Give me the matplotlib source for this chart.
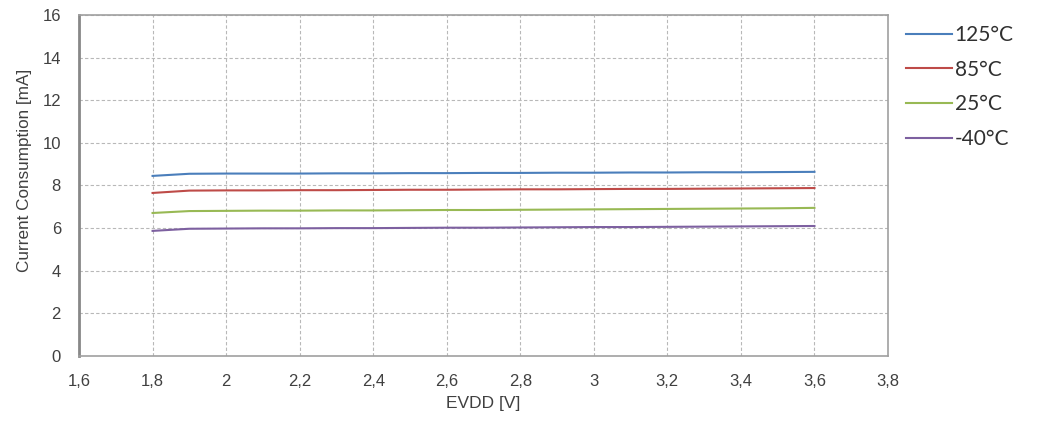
import matplotlib.pyplot as plt
import numpy as np

# supply voltage sweep [V]
evdd = [1.8, 1.9, 2.0, 2.1, 2.2, 2.3, 2.4, 2.5, 2.6, 2.7, 2.8, 2.9, 3.0,
        3.1, 3.2, 3.3, 3.4, 3.5, 3.6]

# current consumption [mA] per temperature
i_125 = [8.45, 8.55, 8.56, 8.56, 8.56, 8.57, 8.57, 8.58, 8.58, 8.59, 8.59,
         8.60, 8.60, 8.61, 8.61, 8.62, 8.62, 8.63, 8.64]
i_85 = [7.65, 7.76, 7.77, 7.77, 7.78, 7.78, 7.79, 7.80, 7.80, 7.81, 7.82,
        7.82, 7.83, 7.84, 7.84, 7.85, 7.86, 7.87, 7.88]
i_25 = [6.71, 6.80, 6.81, 6.82, 6.82, 6.83, 6.83, 6.84, 6.85, 6.85, 6.86,
        6.87, 6.88, 6.89, 6.90, 6.91, 6.92, 6.93, 6.95]
i_m40 = [5.87, 5.97, 5.98, 5.99, 5.99, 6.00, 6.00, 6.01, 6.02, 6.02, 6.03,
         6.04, 6.05, 6.05, 6.06, 6.07, 6.08, 6.09, 6.10]

labels = ['125°C', '85°C', '25°C', '-40°C']
colors = ['#4a7ebb', '#be4b48', '#98b954', '#7d60a0']

plt.rcParams['font.family'] = ['Liberation Sans', 'DejaVu Sans']

fig = plt.figure(figsize=(10.37, 4.21), dpi=100)
ax = fig.add_axes([0.0762, 0.1544, 0.7801, 0.81])

for ys, lab, c in zip([i_125, i_85, i_25, i_m40], labels, colors):
    ax.plot(evdd, ys, color=c, linewidth=1.5, label=lab)

ax.set_xlim(1.6, 3.8)
ax.set_ylim(0, 16)
xt = np.arange(1.6, 3.81, 0.2)
ax.set_xticks(xt)
ax.set_xticklabels([f'{v:g}'.replace('.', ',') for v in np.round(xt, 1)], fontsize=12)
ax.set_yticks(range(0, 17, 2))
ax.set_yticklabels([str(v) for v in range(0, 17, 2)], fontsize=12)
ax.tick_params(length=0, colors='#404040')
ax.tick_params(axis='x', pad=13)
ax.tick_params(axis='y', pad=13)

ax.grid(True, color='#b8b8b8', linestyle=(0, (3, 2)), linewidth=0.8)
for s in ['top', 'right', 'bottom']:
    ax.spines[s].set_color('#a0a0a0')
    ax.spines[s].set_linewidth(1.2)
ax.spines['left'].set_color('#888888')
ax.spines['left'].set_linewidth(2)

ax.set_xlabel('EVDD [V]', fontsize=12.5, color='#404040')
ax.xaxis.set_label_coords(0.5, -0.117)
ax.set_ylabel('Current Consumption [mA]', fontsize=12.3, color='#404040')
ax.yaxis.set_label_coords(-0.058, 0.545)

leg = fig.legend(loc='upper left', bbox_to_anchor=(0.856, 0.985), frameon=False,
                 prop={'family': 'Lato', 'size': 15}, labelspacing=0.7,
                 handlelength=2.2, handletextpad=0.12, labelcolor='#303030')

fig.savefig('out.png', dpi=100, facecolor='white')
